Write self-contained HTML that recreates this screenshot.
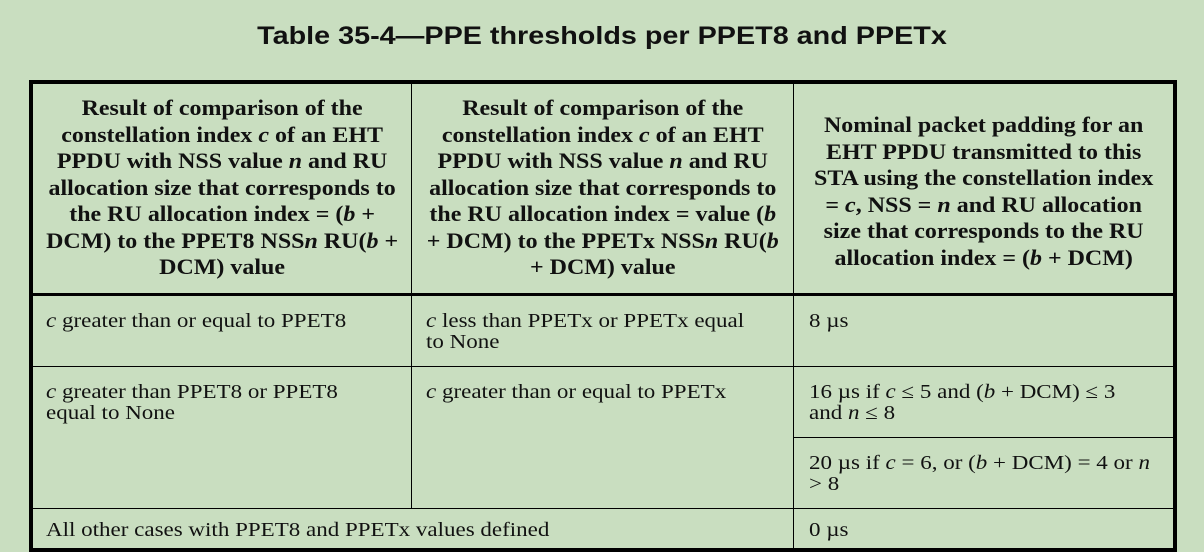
<!DOCTYPE html>
<html><head><meta charset="utf-8"><style>
body{margin:0;width:1204px;height:552px;background:#c9dec0;overflow:hidden;position:relative;font-family:"Liberation Serif",serif;color:#111}
.t{position:absolute;left:0;width:1047px;top:22px;text-align:center;font:bold 25px "Liberation Sans",sans-serif;transform:scaleX(1.15);transform-origin:0 0;white-space:nowrap}
.ln{position:absolute;background:#000}
.c{position:absolute;font-size:20px;line-height:21px;white-space:nowrap;transform:scaleX(1.15);transform-origin:0 0}
.h{position:absolute;font-weight:bold;font-size:22px;line-height:26.5px;text-align:center;white-space:nowrap;transform:scaleX(1.09);transform-origin:0 0}
</style></head><body>
<div class="t">Table 35-4—PPE thresholds per PPET8 and PPETx</div>
<div>
<div class="ln" style="left:29px;top:80px;width:1148px;height:4px"></div>
<div class="ln" style="left:29px;top:80px;width:4px;height:472px"></div>
<div class="ln" style="left:1173px;top:80px;width:4px;height:472px"></div>
<div class="ln" style="left:29px;top:548px;width:1148px;height:4px"></div>
<div class="ln" style="left:29px;top:293px;width:1148px;height:3px"></div>
<div class="ln" style="left:411px;top:80px;width:1px;height:428px"></div>
<div class="ln" style="left:793px;top:80px;width:1px;height:470px"></div>
<div class="ln" style="left:29px;top:366px;width:1148px;height:1px"></div>
<div class="ln" style="left:793px;top:437px;width:384px;height:1px"></div>
<div class="ln" style="left:29px;top:508px;width:1148px;height:1px"></div>

<div class="h" style="left:33px;width:347px;top:95px">Result of comparison of the<br>constellation index <i>c</i> of an EHT<br>PPDU with NSS value <i>n</i> and RU<br>allocation size that corresponds to<br>the RU allocation index = (<i>b</i> +<br>DCM) to the PPET8 NSS<i>n</i> RU(<i>b</i> +<br>DCM) value</div>
<div class="h" style="left:412px;width:350px;top:95px">Result of comparison of the<br>constellation index <i>c</i> of an EHT<br>PPDU with NSS value <i>n</i> and RU<br>allocation size that corresponds to<br>the RU allocation index = value (<i>b</i><br>+ DCM) to the PPETx NSS<i>n</i> RU(<i>b</i><br>+ DCM) value</div>
<div class="h" style="left:794px;width:348px;top:112px">Nominal packet padding for an<br>EHT PPDU transmitted to this<br>STA using the constellation index<br>= <i>c</i>, NSS = <i>n</i> and RU allocation<br>size that corresponds to the RU<br>allocation index = (<i>b</i> + DCM)</div>

<div class="c" style="left:46px;top:311px"><i>c</i> greater than or equal to PPET8</div>
<div class="c" style="left:426px;top:311px"><i>c</i> less than PPETx or PPETx equal<br>to None</div>
<div class="c" style="left:809px;top:311px">8 µs</div>
<div class="c" style="left:46px;top:382px"><i>c</i> greater than PPET8 or PPET8<br>equal to None</div>
<div class="c" style="left:426px;top:382px"><i>c</i> greater than or equal to PPETx</div>
<div class="c" style="left:809px;top:382px">16 µs if <i>c</i> ≤ 5 and (<i>b</i> + DCM) ≤ 3<br>and <i>n</i> ≤ 8</div>
<div class="c" style="left:809px;top:453px">20 µs if <i>c</i> = 6, or (<i>b</i> + DCM) = 4 or <i>n</i><br>&gt; 8</div>
<div class="c" style="left:46px;top:520px">All other cases with PPET8 and PPETx values defined</div>
<div class="c" style="left:809px;top:520px">0 µs</div>
</div>
</body></html>
